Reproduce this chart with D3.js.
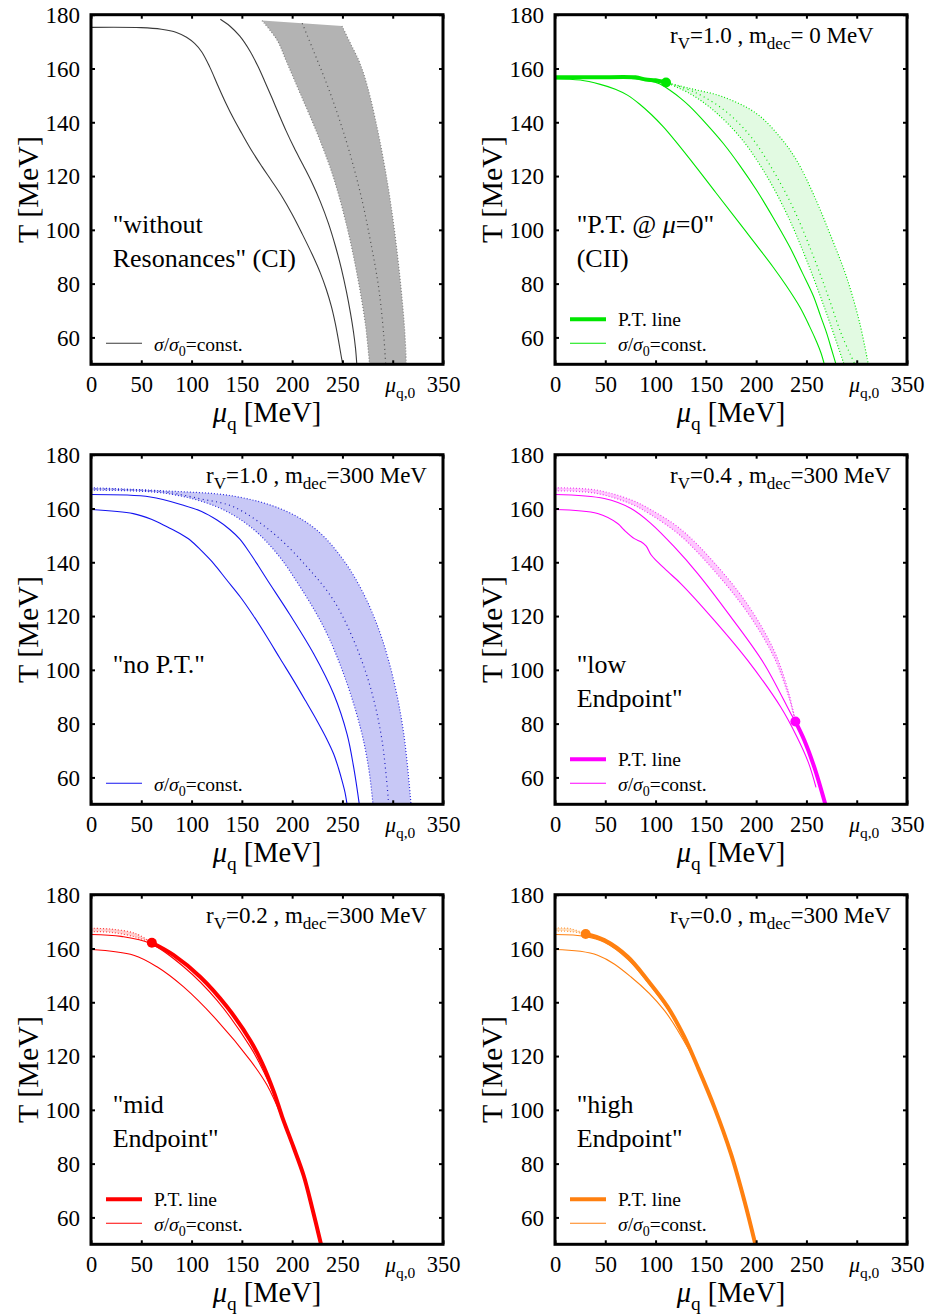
<!DOCTYPE html>
<html><head><meta charset="utf-8">
<script src="https://cdn.jsdelivr.net/npm/d3@7"></script>
<style>
body{margin:0;background:#fff}
svg{display:block}
text{font-family:"Liberation Serif","Times New Roman",serif;fill:#000}
</style>
</head><body>
<svg id="c" width="928" height="1315"></svg>
<script>
// ---------- axis ticks ----------
const xTicks = [0,50,100,150,200,250,300,350];
const xTickLabels = ["0","50","100","150","200","250","μq,0","350"];
const yTicks = [60,80,100,120,140,160,180];

// ---------- Panel 1: "without Resonances" (CI) ----------
const ci_sigma1 = [[0,175.3],[50,175.2],[70,174.6],[85,173.4],[95,171.6],[103,169.3],[110,166.2],[118,160.6],[126,153.8],[134,147.2],[142,141.2],[150,135.8],[160,129.3],[170,123.5],[180,118],[190,112.3],[200,105.8],[210,98.5],[220,90.8],[228,84],[234,77.8],[239,71.5],[243,65],[246.5,58],[248.8,53],[250.3,50]];
const ci_sigma2 = [[128.6,178.3],[138,175.8],[148,172],[158,166.5],[166,160.8],[173,155],[180,149],[187,142.8],[194,136.8],[202,130.5],[211,124],[220,117.3],[228,110.5],[236,102.5],[243,94],[249,85.5],[254,77],[258,69],[261,62],[263,56],[264.3,50]];
const ci_bandL = [[170,177.8],[185,170.6],[195,162],[208,150.7],[225,135.8],[241,119.6],[254.6,101],[264.5,83.6],[272.8,65],[277,50]];
const ci_bandM = [[210,176.8],[221,166.8],[238,150.7],[254.6,132],[268,113.4],[277.8,96],[286,78.6],[291,61.2],[293,50]];
const ci_bandR = [[249.6,175.8],[258,169.3],[266,163.2],[272,157],[277.5,149.5],[282.5,141.5],[287.5,132.5],[292.5,122.5],[297.5,111],[302,99],[306,86.5],[309.5,73.5],[312,62],[313.6,50]];

// ---------- Panel 2: "P.T. @ mu=0" (CII) ----------
const cii_pt = [[0,156.7],[40,156.7],[80,156.7],[90,155.9],[100,155.6],[110.4,154.8]];
const cii_sigma1 = [[0,156.1],[25,155.7],[45,154.1],[60,152.3],[72,150.1],[84,146.8],[96,142.8],[108,138.2],[120,132.9],[141.9,122.6],[160,113.8],[184,102.2],[217,86.1],[230,79.2],[243.6,71.2],[253,64.2],[260.2,58.3],[264.5,54.2],[267.8,50]];
const cii_sigma2 = [[0,156.9],[60,156.8],[95.5,155.3],[104.4,154.2],[115,151.7],[125,148.9],[134,145.9],[150,139.6],[167.4,132.1],[184,123.8],[200.5,114.7],[217,104.5],[233.6,93.5],[246,84],[256.8,75.5],[264,68],[270.2,61.5],[275,55.5],[279.4,50]];
const cii_bandL = [[110.4,154.8],[134,150.7],[157.4,144.5],[184,134.5],[207.2,122.1],[230.4,106],[250.3,88.6],[270.2,68.7],[287.4,50]];
const cii_bandM = [[110.4,154.8],[140,151],[170,144],[195,134.5],[217,122],[237,108],[255,92],[271,76],[285,61],[298.3,50]];
const cii_bandR = [[110.4,154.8],[134,152.6],[167.4,149.4],[200.5,143.2],[223.7,134.5],[240.3,125.8],[256.8,113.4],[273.4,98.5],[290,82.3],[303.2,65],[311.5,50]];

// ---------- Panel 3: "no P.T." ----------
const np_sigma1 = [[0,159.6],[42,158.1],[60,156],[75.6,153.2],[88,150.8],[98.8,148.2],[110,144.2],[122,139.5],[135,133.4],[148.5,127.1],[161,120.4],[175,112.2],[188,104.2],[201.5,96],[213,88.7],[224.7,81.1],[234,74.6],[241.3,68.7],[246,63.5],[249.6,58.8],[252.5,54.5],[254.6,50]];
const np_sigma2 = [[0,165.2],[59,164.3],[92,161.2],[110,158.9],[125.3,155.7],[138,152.2],[148,148.6],[157,144],[166,138.9],[175,133.6],[198,120.4],[221.4,106],[241.3,91],[254.6,76.1],[261.2,63.7],[266.8,50]];
const np_bandL = [[0,166.8],[75,165.6],[125.3,160.6],[158.5,153.2],[185,143.2],[208,130.8],[231.4,115.9],[251.2,98.5],[267.8,78.6],[276,63.7],[280.4,50]];
const np_bandM = [[0,167.3],[70,166.3],[110,163.5],[141.9,160.6],[181.6,150.7],[214.8,138.3],[241.3,125.8],[261.2,111],[277.8,93.5],[289.4,73.7],[296,50]];
const np_bandR = [[0,167.7],[70,166.6],[141.9,164.6],[191.6,159.4],[224.7,151.9],[251.2,140.7],[271,128.3],[287.7,113.4],[301,96],[311,76.1],[318.2,50]];

// ---------- Panel 4: "low Endpoint" ----------
const le_pt = [[239,80.8],[248,73.7],[257.9,63.7],[268.8,50]];
const le_sigma1 = [[0,159.6],[42.4,158.1],[62.3,154.4],[69,151.9],[78.9,148.8],[85.5,147.6],[90.5,146.1],[95.5,142.8],[100.4,140.7],[112,136.6],[125.3,132],[158.4,118.4],[191.6,103.5],[224.7,86],[240,75.5],[252,65.5],[259.5,56.3]];
const le_sigma2 = [[0,165.2],[49,163.7],[75.6,160],[95.5,154.4],[118.7,145.7],[141.9,135.8],[175,119.6],[208,102.2],[234.7,83.6],[239.5,80.5]];
const le_bandU = [[0,167.7],[40,166.9],[75,163.3],[95,159.6],[125,152.3],[158,140],[192,124],[218,107],[232,92],[239,80.8]];
const le_bandL = [[0,166.6],[40,165.7],[75,161.8],[95,157.8],[125,149.8],[158,137],[192,121],[218,104.5],[232,90.5],[239,80.8]];

// ---------- Panel 5: "mid Endpoint" ----------
const me_pt = [[60.5,162.1],[82.2,157.5],[108.7,149.4],[135.2,138.3],[158.4,125.8],[170,117.5],[182,106.5],[190,97.5],[201.5,86],[211.5,75.5],[219.8,63.7],[228.7,50]];
const me_sigma1 = [[0,159.6],[42.4,157.5],[65.6,153.2],[92.1,145.7],[125.3,133.3],[158.4,118.4],[175,109.2],[190,97]];
const me_sigma2 = [[0,165.2],[30,164.5],[59,161.9],[92.1,153.2],[125.3,140.7],[158.4,123.4],[172,114],[182,105.5],[190,97.3]];
const me_bandU = [[0,167.5],[20,167.2],[44,165.6],[60.5,162.1]];
const me_bandL = [[0,166.3],[20,166],[44,164.3],[60.5,162.1]];

// ---------- Panel 6: "high Endpoint" ----------
const he_pt = [[30.5,165.4],[49,163.1],[72.3,156.9],[92.1,148.2],[112,138.3],[128.6,127.1],[141.9,115.9],[158.4,101],[175,83.6],[188.3,66.2],[199.2,50]];
const he_sigma1 = [[0,159.6],[42.4,157.5],[75.6,149.4],[108.7,137],[135.2,120.9],[141.9,115.9]];
const he_sigma2 = [[0,165.2],[30,164.5],[49,162.3],[72.3,156],[92.1,147.5],[112,137.5],[128.6,126.5],[141.9,115.5]];
const he_bandU = [[0,167.6],[15,167.4],[30.5,165.4]];
const he_bandL = [[0,166.5],[15,166.3],[30.5,165.4]];

// ---------- panel table built from the arrays ----------
const panels = [
  {col:0,row:0,color:"#3a3a3a",dotted:"#808080",mid:"#505050",fill:"#b3b3b3",
   band:[ci_bandL,ci_bandR], dots:[ci_bandL,ci_bandR], midDots:[ci_bandM], thin:[ci_sigma1,ci_sigma2], pt:null, dotAt:null,
   label:[[["\"without"]],[["Resonances\" (CI)"]]], top:null},
  {col:1,row:0,color:"#00e600",dotted:"#00e600",mid:"#00e600",fill:"#e2fae2",
   band:[cii_bandL,cii_bandR], dots:[cii_bandL,cii_bandR], midDots:[cii_bandM], thin:[cii_sigma1,cii_sigma2], pt:cii_pt, dotAt:"end",
   label:[[["\"P.T. @ "],["μ","i"],["=0\""]],[["(CII)"]]], top:[["r"],["V","s"],["=1.0 , m"],["dec","s"],["= 0 MeV"]]},
  {col:0,row:1,color:"#1414f0",dotted:"#3030e0",mid:"#2020c0",fill:"#c8c8f6",
   band:[np_bandL,np_bandR], dots:[np_bandL,np_bandR], midDots:[np_bandM], thin:[np_sigma1,np_sigma2], pt:null, dotAt:null,
   label:[[["\"no P.T.\""]]], top:[["r"],["V","s"],["=1.0 , m"],["dec","s"],["=300 MeV"]]},
  {col:1,row:1,color:"#ff00ff",dotted:"#f040f0",mid:"#f040f0",fill:"#ffc8ff",
   band:[le_bandU,le_bandL], dots:[le_bandU,le_bandL], midDots:[], thin:[le_sigma1,le_sigma2], pt:le_pt, dotAt:"start",
   label:[[["\"low"]],[["Endpoint\""]]], top:[["r"],["V","s"],["=0.4 , m"],["dec","s"],["=300 MeV"]]},
  {col:0,row:2,color:"#ff0000",dotted:"#ff4040",mid:"#ff4040",fill:"#ffd0d0",
   band:[me_bandU,me_bandL], dots:[me_bandU,me_bandL], midDots:[], thin:[me_sigma1,me_sigma2], pt:me_pt, dotAt:"start",
   label:[[["\"mid"]],[["Endpoint\""]]], top:[["r"],["V","s"],["=0.2 , m"],["dec","s"],["=300 MeV"]]},
  {col:1,row:2,color:"#ff8010",dotted:"#ff9a40",mid:"#ff9a40",fill:"#ffe0c0",
   band:[he_bandU,he_bandL], dots:[he_bandU,he_bandL], midDots:[], thin:[he_sigma1,he_sigma2], pt:he_pt, dotAt:"start",
   label:[[["\"high"]],[["Endpoint\""]]], top:[["r"],["V","s"],["=0.0 , m"],["dec","s"],["=300 MeV"]]}
];

const colX = [91,555], rowY = [14.7,454.7,894.7];
const pw = 352, ph = 349.6;
const svg = d3.select("#c");

function rich(sel, parts, size, subScale){
  subScale = subScale || 0.72;
  let shift = 0;
  parts.forEach(([t,st])=>{
    st = st || "";
    const sub = st.includes("s");
    const target = sub ? size*0.28 : 0;
    const ts = sel.append("tspan").text(t).attr("font-size", sub ? size*subScale : size);
    if (target !== shift){ ts.attr("dy", target-shift); shift = target; }
    if (st.includes("i")) ts.attr("font-style","italic");
  });
}

panels.forEach((p,i)=>{
  const g = svg.append("g").attr("transform",`translate(${colX[p.col]},${rowY[p.row]})`);
  const x = d3.scaleLinear().domain([0,350]).range([0,pw]);
  const y = d3.scaleLinear().domain([50,180]).range([ph,0]);
  const line = d3.line().x(d=>x(d[0])).y(d=>y(d[1])).curve(d3.curveCatmullRom.alpha(0.5));

  g.append("clipPath").attr("id","clip"+i).append("rect").attr("width",pw).attr("height",ph);
  const plot = g.append("g").attr("clip-path",`url(#clip${i})`);

  // band
  const a = line(p.band[0]);
  const b = line(p.band[1].slice().reverse());
  plot.append("path").attr("d", a + "L" + b.slice(1) + "Z").attr("fill",p.fill).attr("stroke","none");
  p.dots.forEach(c=>plot.append("path").attr("d",line(c)).attr("fill","none")
     .attr("stroke",p.dotted).attr("stroke-width",1.2).attr("stroke-dasharray","1,2"));
  p.midDots.forEach(c=>plot.append("path").attr("d",line(c)).attr("fill","none")
     .attr("stroke",p.mid).attr("stroke-width",1.2).attr("stroke-dasharray","1,3.5"));
  p.thin.forEach(c=>plot.append("path").attr("d",line(c)).attr("fill","none")
     .attr("stroke",p.color).attr("stroke-width",1.1));
  if (p.pt){
    plot.append("path").attr("d",line(p.pt)).attr("fill","none").attr("stroke",p.color)
      .attr("stroke-width",4).attr("stroke-linejoin","round");
    const e = p.dotAt === "end" ? p.pt[p.pt.length-1] : p.pt[0];
    g.append("circle").attr("cx",x(e[0])).attr("cy",y(e[1])).attr("r",5).attr("fill",p.color);
  }

  // axes (inward ticks on all four sides)
  const ax = g.append("g").attr("transform",`translate(0,${ph})`)
    .call(d3.axisBottom(x).tickValues(xTicks).tickSize(-4).tickSizeOuter(0).tickFormat((d,k)=>xTickLabels[k]));
  ax.select(".domain").remove();
  ax.selectAll("line").attr("stroke","#000").attr("stroke-width",2);
  ax.selectAll("text").attr("y",28).attr("dy",null).attr("font-size",22.5).attr("fill","#000");
  ax.selectAll("text").filter(d=>d===300).each(function(){
    const t = d3.select(this); t.text(null).attr("x",7);
    rich(t,[["μ","i"],["q,0","s"]],21.5);
  });

  const ay = g.append("g").call(d3.axisLeft(y).tickValues(yTicks).tickSize(-4).tickSizeOuter(0));
  ay.select(".domain").remove();
  ay.selectAll("line").attr("stroke","#000").attr("stroke-width",2);
  ay.selectAll("text").attr("x",-11).attr("dy","0.34em").attr("font-size",23).attr("fill","#000");

  const at = g.append("g").call(d3.axisTop(x).tickValues(xTicks).tickSize(-4).tickSizeOuter(0).tickFormat(""));
  at.select(".domain").remove(); at.selectAll("line").attr("stroke","#000").attr("stroke-width",2);
  const ar = g.append("g").attr("transform",`translate(${pw},0)`)
    .call(d3.axisRight(y).tickValues(yTicks).tickSize(-4).tickSizeOuter(0).tickFormat(""));
  ar.select(".domain").remove(); ar.selectAll("line").attr("stroke","#000").attr("stroke-width",2);

  g.append("rect").attr("width",pw).attr("height",ph).attr("fill","none").attr("stroke","#000").attr("stroke-width",3);

  // axis titles
  const xt = g.append("text").attr("x",pw/2).attr("y",407.5).attr("text-anchor","middle");
  rich(xt,[["μ","i"],["q","s"],[" [MeV]"]],28.5,0.68);
  g.append("text").attr("transform",`translate(-53.5,${ph/2}) rotate(-90)`).attr("text-anchor","middle")
    .attr("font-size",30).text("T [MeV]");

  // annotation
  p.label.forEach((ln,k)=>{
    const t = g.append("text").attr("x",21.7).attr("y",218.6+k*33.4);
    rich(t, ln, 26);
  });
  if (p.top){
    const t = g.append("text").attr("x",115).attr("y",28);
    rich(t, p.top, 23, 0.74);
  }

  // legend
  const rows = [];
  if (p.pt) rows.push({w:4, parts:[["P.T. line"]], ly:304.6, ty:311.3});
  rows.push({w:1.1, parts:[["σ","i"],["/"],["σ","i"],["0","s"],["=const."]], ly:328.6, ty:336});
  rows.forEach(r=>{
    g.append("line").attr("x1",15).attr("x2",51).attr("y1",r.ly).attr("y2",r.ly)
      .attr("stroke",p.color).attr("stroke-width",r.w);
    const t = g.append("text").attr("x",63).attr("y",r.ty);
    rich(t, r.parts, 19.5);
  });
});
</script>
</body></html>
